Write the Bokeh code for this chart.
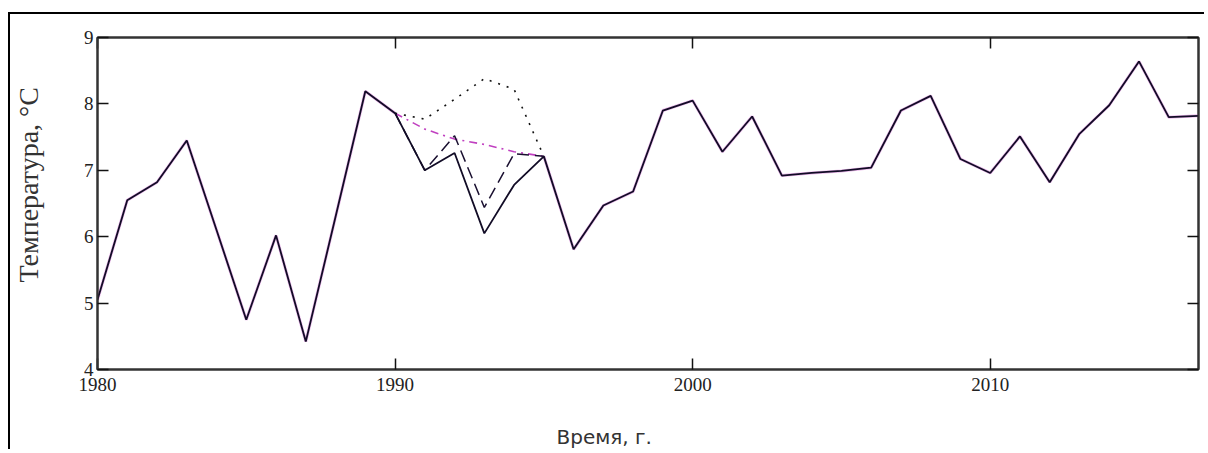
from bokeh.plotting import figure
from bokeh.models import (Range1d, LinearAxis, FixedTicker, Title,
                          CustomJSTickFormatter)
from bokeh.embed import file_html
from bokeh.resources import INLINE

# ---- data ----
years = list(range(1980, 2018))
temp = [5.05, 6.55, 6.82, 7.45, 6.1, 4.75, 6.02, 4.42, 6.3, 8.19,
        7.86, 7.0, 7.26, 6.05, 6.78, 7.21, 5.81, 6.47, 6.68, 7.9,
        8.05, 7.28, 7.81, 6.92, 6.96, 6.99, 7.04, 7.9, 8.12, 7.17,
        6.96, 7.51, 6.82, 7.55, 7.98, 8.64, 7.8, 7.82]

gap_years = [1990, 1991, 1992, 1993, 1994, 1995]
temp_dashed = [7.86, 7.0, 7.52, 6.44, 7.25, 7.21]
temp_dotted = [7.86, 7.77, 8.07, 8.38, 8.22, 7.21]
temp_dashdot = [7.86, 7.62, 7.47, 7.39, 7.28, 7.21]

x_ticks = [1980, 1990, 2000, 2010]
y_ticks = [4, 5, 6, 7, 8, 9]

x_title = "Время, г."
y_title = "Температура, °C"

# solid series with the gap years masked (for the magenta under-stroke)
temp_outer = [t if (y <= gap_years[0] or y >= gap_years[-1]) else float("nan")
              for y, t in zip(years, temp)]

p = figure(width=1196, height=437, output_backend="svg", toolbar_location=None,
           x_range=Range1d(1980, 2017), y_range=Range1d(4, 9),
           min_border_left=87, min_border_right=8, min_border_top=23,
           min_border_bottom=82, x_axis_location=None, y_axis_location=None)
p.styles = {"margin-left": "8px", "margin-top": "12px",
            "border-left": "2px solid black", "border-top": "2px solid black"}
p.grid.visible = False
p.outline_line_color = "#333333"
p.outline_line_width = 2
p.background_fill_color = "white"
p.border_fill_color = "white"

serif = "Liberation Serif"
empty = CustomJSTickFormatter(code="return ''")
blank = CustomJSTickFormatter(code="return ' '")

def style_axis(ax, ticks, labels=True):
    ax.ticker = FixedTicker(ticks=ticks)
    ax.major_tick_in = 11
    ax.major_tick_out = 0
    ax.minor_tick_line_color = None
    ax.major_tick_line_color = "#111111"
    ax.major_tick_line_width = 1.5
    ax.axis_line_color = "#333333"
    ax.axis_line_width = 2
    ax.major_label_text_font = serif
    ax.major_label_text_font_size = "19px"
    ax.major_label_text_color = "#222222"
    if not labels:
        ax.formatter = empty
        ax.major_label_standoff = 0

def spacer(size, tick):
    # invisible axis used only to reserve room between tick labels and title
    ax = LinearAxis(ticker=FixedTicker(ticks=[tick]), formatter=blank)
    ax.major_tick_in = 0
    ax.major_tick_out = 0
    ax.minor_tick_line_color = None
    ax.major_tick_line_color = None
    ax.axis_line_color = None
    ax.major_label_text_font_size = "1px"
    ax.major_label_text_color = "#ffffff"
    ax.major_label_standoff = size
    return ax

bx = LinearAxis()
style_axis(bx, x_ticks)
bx.major_label_standoff = 8
p.add_layout(bx, "below")
p.add_layout(spacer(25, x_ticks[1]), "below")

lx = LinearAxis()
style_axis(lx, y_ticks)
lx.major_label_standoff = 4
p.add_layout(lx, "left")
p.add_layout(spacer(34, y_ticks[1]), "left")

tx = LinearAxis()
style_axis(tx, x_ticks, labels=False)
p.add_layout(tx, "above")
rx = LinearAxis()
style_axis(rx, y_ticks, labels=False)
p.add_layout(rx, "right")

# lines
p.line(years, temp_outer, line_color="#d060d0", line_width=3.0, line_alpha=0.45)
p.line(gap_years, temp_dashdot, line_color="#c040c0", line_width=1.6,
       line_dash="8 5 2 5")
p.line(gap_years, temp_dotted, line_color="#111111", line_width=1.6,
       line_dash="2 7")
p.line(gap_years, temp_dashed, line_color="#1a1030", line_width=1.5,
       line_dash="12 6")
p.line(years, temp, line_color="#120c26", line_width=1.8)

# titles
p.add_layout(Title(text=x_title, align="left", offset=459, standoff=0,
                   text_font="DejaVu Sans", text_font_size="20px",
                   text_font_style="normal", text_color="#333333"), "below")
p.add_layout(Title(text=y_title, align="left", offset=87, standoff=0,
                   text_font=serif, text_font_size="28px",
                   text_font_style="normal", text_color="#333333"), "left")

open("out.html", "w").write(file_html(p, INLINE))
